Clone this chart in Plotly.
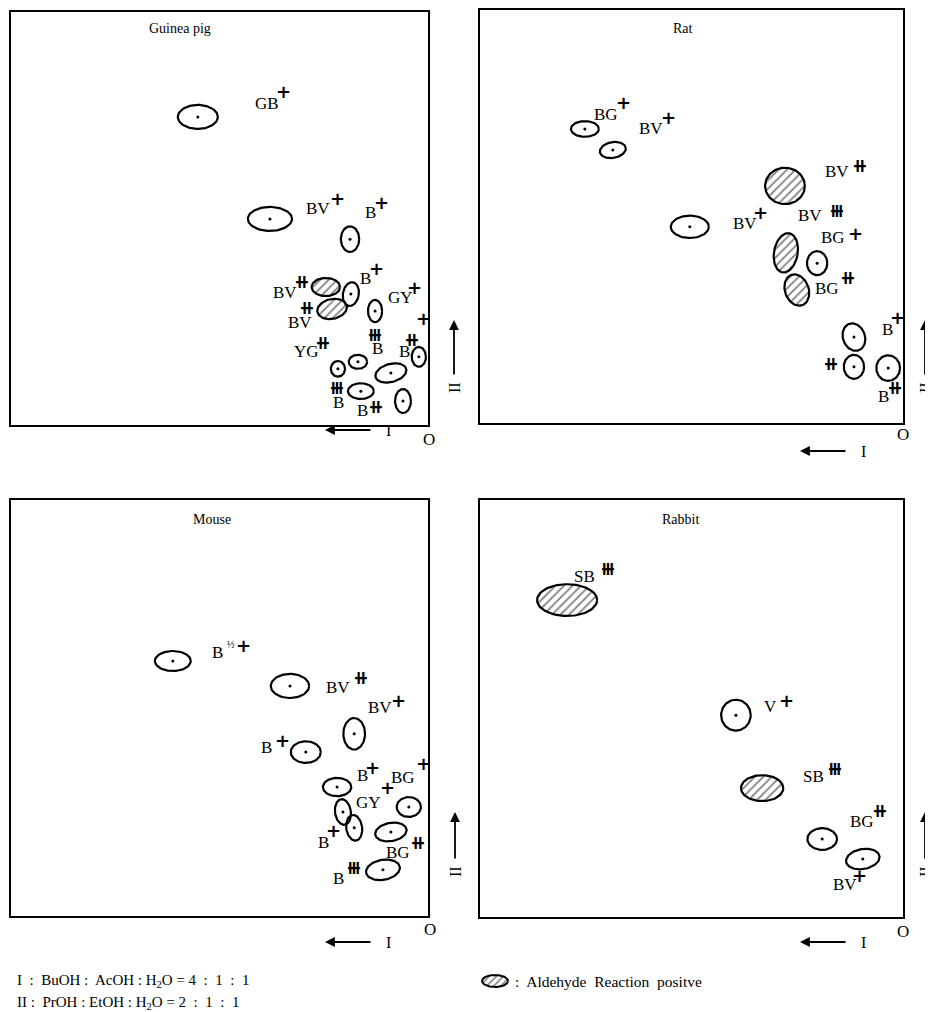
import numpy as np
import plotly.graph_objects as go

# page offset (browser body margin) and figure size
PAGE_OFF = 8
FIG_W, FIG_H = 925, 1004

# ------------------------------------------------------------------
# DATA  (Rf values: I = solvent I, measured leftward from origin O;
#        II = solvent II, measured upward from origin O)
# ------------------------------------------------------------------
panels = ["Guinea pig", "Rat", "Mouse", "Rabbit"]

gp_rf1 = [0.552, 0.379, 0.187, 0.245, 0.230, 0.185, 0.127, 0.022, 0.216, 0.168, 0.089, 0.161, 0.060]
gp_rf2 = [0.746, 0.499, 0.450, 0.334, 0.281, 0.317, 0.276, 0.165, 0.136, 0.153, 0.126, 0.082, 0.058]
gp_aldehyde = [0, 0, 0, 1, 1, 0, 0, 0, 0, 0, 0, 0, 0]

rat_rf1 = [0.752, 0.686, 0.504, 0.279, 0.277, 0.203, 0.251, 0.116, 0.116, 0.035]
rat_rf2 = [0.712, 0.661, 0.475, 0.574, 0.412, 0.387, 0.322, 0.208, 0.136, 0.133]
rat_aldehyde = [0, 0, 0, 1, 1, 0, 1, 0, 0, 0]

mouse_rf1 = [0.612, 0.331, 0.177, 0.293, 0.218, 0.204, 0.177, 0.046, 0.089, 0.108]
mouse_rf2 = [0.613, 0.553, 0.438, 0.394, 0.310, 0.250, 0.212, 0.262, 0.202, 0.111]
mouse_aldehyde = [0, 0, 0, 0, 0, 0, 0, 0, 0, 0]

rabbit_rf1 = [0.794, 0.395, 0.333, 0.191, 0.095]
rabbit_rf2 = [0.760, 0.484, 0.309, 0.187, 0.139]
rabbit_aldehyde = [1, 0, 1, 0, 0]

# spot extents (half-axes in Rf units) and tilt (deg)
gp_spot_a = [0.048, 0.053, 0.022, 0.034, 0.036, 0.019, 0.017, 0.017, 0.017, 0.022, 0.038, 0.031, 0.019]
gp_spot_b = [0.029, 0.029, 0.031, 0.022, 0.024, 0.029, 0.027, 0.024, 0.019, 0.017, 0.022, 0.019, 0.029]
gp_spot_t = [0, 0, 0, 0, 12, -10, 0, 0, 0, 0, 15, 0, 0]
rat_spot_a = [0.033, 0.031, 0.045, 0.047, 0.028, 0.024, 0.028, 0.026, 0.024, 0.028]
rat_spot_b = [0.019, 0.019, 0.027, 0.044, 0.048, 0.029, 0.039, 0.034, 0.029, 0.031]
rat_spot_t = [0, 10, 0, 0, -10, 0, 20, 20, 0, 0]
mouse_spot_a = [0.043, 0.046, 0.026, 0.036, 0.034, 0.019, 0.019, 0.029, 0.038, 0.041]
mouse_spot_b = [0.024, 0.029, 0.038, 0.026, 0.022, 0.031, 0.031, 0.024, 0.022, 0.024]
mouse_spot_t = [0, 0, 0, 0, 0, 8, 8, 0, 10, 10]
rabbit_spot_a = [0.071, 0.035, 0.050, 0.035, 0.040]
rabbit_spot_b = [0.038, 0.037, 0.031, 0.026, 0.024]
rabbit_spot_t = [0, 0, 0, 0, 10]

# fluorescence colour labels and intensities
gp_colour = ["GB", "BV", "B", "BV", "BV", "B", "GY", "", "B", "B", "YG", "B", "B"]
gp_intens = ["+", "+", "+", "++", "++", "+", "+", "+", "+++", "++", "++", "+++", "++"]
rat_colour = ["BG", "BV", "BV", "BV", "BV", "BG", "BG", "B", "", "B"]
rat_intens = ["+", "+", "+", "++", "+++", "+", "++", "+", "++", "++"]
mouse_colour = ["B", "BV", "BV", "B", "B", "BG", "GY", "B", "BG", "B"]
mouse_intens = ["+", "++", "+", "+", "+", "+", "+", "+", "++", "+++"]
rabbit_colour = ["SB", "V", "SB", "BG", "BV"]
rabbit_intens = ["+++", "+", "+++", "++", "+"]

# ------------------------------------------------------------------
# LAYOUT (pixel positions on the page)
# ------------------------------------------------------------------
boxes = [(11, 12, 428, 425), (480, 10, 903, 423), (11, 500, 428, 916), (480, 500, 903, 917)]
title_pos = [(180, 29), (683, 29), (212, 519), (680, 519)]
origin_pos = [(429, 439), (903, 434), (430, 929), (903, 931)]
arrowI_pos = [(325, 372, 388, 430), (800, 847, 863, 451), (325, 372, 388, 942), (800, 847, 863, 942)]
arrowII_pos = [(454, 320, 376, 388), (925, 320, 376, 388), (455, 812, 860, 872), (925, 812, 860, 872)]

# label placements: (colour-text x, y, intensity x, y)
gp_lab = [(267, 103, 283, 91), (318, 208, 337, 198), (370, 212, 381, 202), (285, 293, 302, 281),
          (300, 323, 307, 307), (365, 278, 376, 268), (400, 298, 414, 287), (0, 0, 423, 319),
          (377, 349, 375, 334), (404, 352, 412, 339), (306, 352, 323, 342), (338, 402, 337, 387),
          (362, 410, 376, 406)]
rat_lab = [(606, 114, 623, 102), (651, 128, 668, 117), (745, 223, 760, 212), (837, 172, 860, 165),
           (810, 215, 837, 210), (833, 237, 855, 233), (827, 288, 848, 277), (887, 330, 897, 318),
           (0, 0, 831, 363), (883, 396, 895, 387)]
mouse_lab = [(217, 652, 243, 645), (338, 687, 361, 677), (380, 707, 398, 700), (266, 747, 282, 740),
             (362, 775, 372, 767), (403, 777, 423, 763), (368, 802, 387, 787), (323, 842, 333, 830),
             (398, 852, 418, 842), (338, 878, 354, 867)]
rabbit_lab = [(584, 576, 608, 568), (770, 706, 786, 700), (813, 776, 835, 768), (862, 821, 880, 810),
              (845, 884, 859, 875)]
extra_text = [("½", 231, 644, 10)]

mark_glyph = {"+": "+", "++": "\u29FA", "+++": "\u29FB"}
mark_size = {"+": 18, "++": 19, "+++": 19}

SERIF = "Liberation Serif"

all_rf1 = [gp_rf1, rat_rf1, mouse_rf1, rabbit_rf1]
all_rf2 = [gp_rf2, rat_rf2, mouse_rf2, rabbit_rf2]
all_ald = [gp_aldehyde, rat_aldehyde, mouse_aldehyde, rabbit_aldehyde]
all_a = [gp_spot_a, rat_spot_a, mouse_spot_a, rabbit_spot_a]
all_b = [gp_spot_b, rat_spot_b, mouse_spot_b, rabbit_spot_b]
all_t = [gp_spot_t, rat_spot_t, mouse_spot_t, rabbit_spot_t]
all_col = [gp_colour, rat_colour, mouse_colour, rabbit_colour]
all_int = [gp_intens, rat_intens, mouse_intens, rabbit_intens]
all_lab = [gp_lab, rat_lab, mouse_lab, rabbit_lab]


def px(x):
    return (x - PAGE_OFF) / FIG_W


def py(y):
    return 1 - (y - PAGE_OFF) / FIG_H


fig = go.Figure()
layout = dict(width=FIG_W, height=FIG_H, margin=dict(l=0, r=0, t=0, b=0),
              paper_bgcolor="white", plot_bgcolor="rgba(0,0,0,0)", showlegend=False)
annotations = []

theta = np.linspace(0, 2 * np.pi, 90)


def txt(x, y, text, size, family=SERIF, anchor="center", angle=0):
    return dict(x=px(x), y=py(y), xref="paper", yref="paper", text=text, showarrow=False,
                xanchor=anchor, yanchor="middle", textangle=angle,
                font=dict(family=family, size=size, color="black"))


for i, name in enumerate(panels):
    L, T, R, B = boxes[i]
    W, H = R - L, B - T
    sx = "" if i == 0 else str(i + 1)
    xa, ya = "x" + sx, "y" + sx
    axis_common = dict(showline=True, mirror=True, linecolor="black", linewidth=2,
                       showgrid=False, zeroline=False, showticklabels=False, ticks="",
                       fixedrange=True)
    layout["xaxis" + sx] = dict(axis_common, domain=[px(L), px(R)], range=[1, 0], anchor=ya)
    layout["yaxis" + sx] = dict(axis_common, domain=[py(B), py(T)], range=[0, 1], anchor=xa)

    for j in range(len(all_rf1[i])):
        c1, c2 = all_rf1[i][j], all_rf2[i][j]
        ra, rb = all_a[i][j] * W, all_b[i][j] * H
        ang = np.deg2rad(all_t[i][j])
        dx = ra * np.cos(theta) * np.cos(ang) - rb * np.sin(theta) * np.sin(ang)
        dy = ra * np.cos(theta) * np.sin(ang) + rb * np.sin(theta) * np.cos(ang)
        ex = c1 - dx / W
        ey = c2 + dy / H
        if all_ald[i][j]:
            fig.add_trace(go.Scatter(x=ex, y=ey, xaxis=xa, yaxis=ya, mode="lines",
                                     line=dict(color="black", width=2.2), fill="toself",
                                     fillcolor="white",
                                     fillpattern=dict(shape="/", fgcolor="black", bgcolor="white",
                                                      size=6, solidity=0.3),
                                     hoverinfo="skip"))
        else:
            fig.add_trace(go.Scatter(x=ex, y=ey, xaxis=xa, yaxis=ya, mode="lines",
                                     line=dict(color="black", width=2.2), hoverinfo="skip"))
    dx_ = [all_rf1[i][j] for j in range(len(all_rf1[i])) if not all_ald[i][j]]
    dy_ = [all_rf2[i][j] for j in range(len(all_rf2[i])) if not all_ald[i][j]]
    fig.add_trace(go.Scatter(x=dx_, y=dy_, xaxis=xa, yaxis=ya, mode="markers",
                             marker=dict(color="black", size=3), hoverinfo="skip"))

    for j, (lx, ly, mx, my) in enumerate(all_lab[i]):
        if all_col[i][j]:
            annotations.append(txt(lx, ly, all_col[i][j], 17))
        m = all_int[i][j]
        annotations.append(txt(mx, my, "<b>" + mark_glyph[m] + "</b>", mark_size[m],
                               family="DejaVu Sans"))
    tx, ty = title_pos[i]
    annotations.append(txt(tx, ty, name, 14))
    ox, oy = origin_pos[i]
    annotations.append(txt(ox, oy, "O", 17))
    hx, tx_, ix, ay_ = arrowI_pos[i]
    annotations.append(dict(x=px(hx), y=py(ay_), xref="paper", yref="paper", text="",
                            showarrow=True, ax=tx_ - hx, ay=0, axref="pixel", ayref="pixel",
                            arrowhead=2, arrowsize=1.1, arrowwidth=1.8, arrowcolor="black"))
    annotations.append(txt(ix, ay_, "I", 16))
    vx, vh, vt, iy = arrowII_pos[i]
    annotations.append(dict(x=px(vx), y=py(vh), xref="paper", yref="paper", text="",
                            showarrow=True, ax=0, ay=vt - vh, axref="pixel", ayref="pixel",
                            arrowhead=2, arrowsize=1.1, arrowwidth=1.8, arrowcolor="black"))
    annotations.append(txt(vx, iy, "II", 16, angle=-90))

for t, x, y, s in extra_text:
    annotations.append(txt(x, y, t, s))

annotations.append(txt(15, 981, "I  :  BuOH :  AcOH : H<sub>2</sub>O = 4  :  1  :  1", 15, anchor="left"))
annotations.append(txt(15, 1003, "II :  PrOH : EtOH : H<sub>2</sub>O = 2  :  1  :  1", 15, anchor="left"))
annotations.append(txt(513, 981, ":  Aldehyde  Reaction  positve", 15.5, anchor="left"))

# legend swatch (page-pixel overlay axis)
layout["xaxis5"] = dict(domain=[0, 1], range=[PAGE_OFF, PAGE_OFF + FIG_W], visible=False,
                        fixedrange=True, anchor="y5")
layout["yaxis5"] = dict(domain=[0, 1], range=[PAGE_OFF + FIG_H, PAGE_OFF], visible=False,
                        fixedrange=True, anchor="x5")
sw_x = 495 + 13 * np.cos(theta)
sw_y = 981 + 6 * np.sin(theta)
fig.add_trace(go.Scatter(x=sw_x, y=sw_y, xaxis="x5", yaxis="y5", mode="lines",
                         line=dict(color="black", width=2), fill="toself", fillcolor="white",
                         fillpattern=dict(shape="/", fgcolor="black", bgcolor="white", size=5, solidity=0.3),
                         hoverinfo="skip"))

layout["annotations"] = annotations
fig.update_layout(**layout)
fig.write_html("out.html")
